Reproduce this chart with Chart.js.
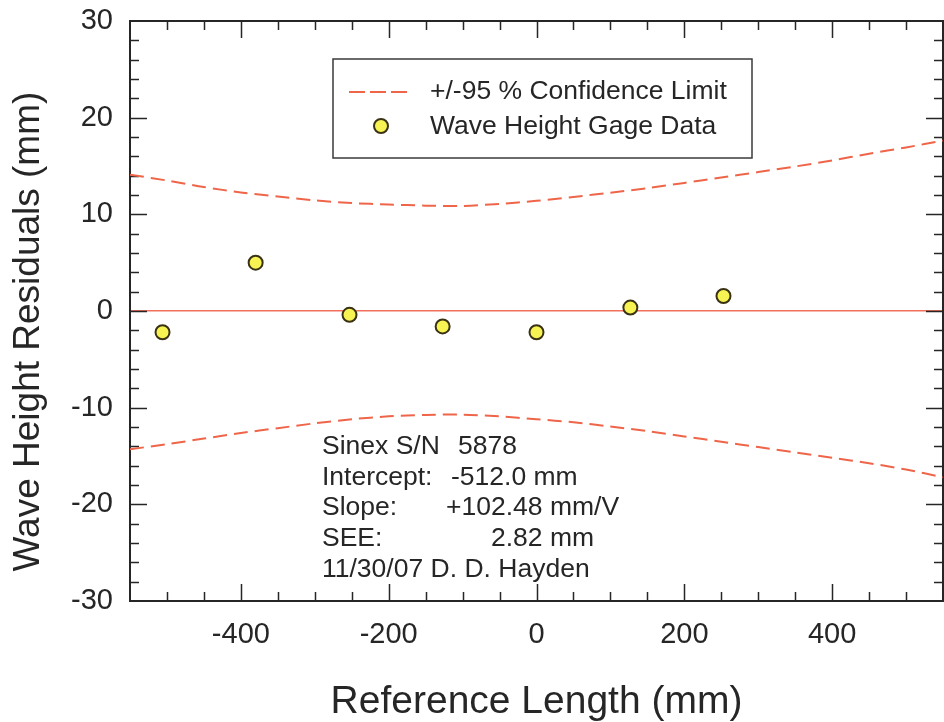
<!DOCTYPE html>
<html>
<head>
<meta charset="utf-8">
<title>Wave Height Residuals</title>
<script src="https://cdn.jsdelivr.net/npm/chart.js@4.4.0/dist/chart.umd.min.js"></script>
<style>
  html, body { margin: 0; padding: 0; background: #fff; overflow: hidden; }
  .wrap { width: 952px; height: 722px; }
  #chart { display: block; }
</style>
</head>
<body>
<div class="wrap">
<canvas id="chart" width="952" height="722"></canvas>
</div>
<script>
// gage readings: reference length (mm) vs residual (mm)
const gageX = [-506, -380, -253, -127, 0, 127, 253];
const gageY = [-2.2, 5.0, -0.4, -1.6, -2.2, 0.35, 1.55];

// confidence limits
const limitX = [-550, -500, -450, -400, -350, -300, -250, -200, -150, -100, -50, 0,
  50, 100, 150, 200, 250, 300, 350, 400, 450, 500, 550];
const upperLimit = [14.1, 13.5, 12.82, 12.27, 11.85, 11.44, 11.17, 11.02, 10.9, 10.87, 11.08, 11.4,
  11.8, 12.24, 12.71, 13.25, 13.8, 14.37, 14.95, 15.58, 16.27, 16.92, 17.62];
const lowerLimit = [-14.3, -13.78, -13.2, -12.62, -12.12, -11.62, -11.2, -10.9, -10.75, -10.72, -10.9, -11.2,
  -11.5, -11.95, -12.42, -12.98, -13.52, -14.08, -14.62, -15.18, -15.75, -16.4, -17.2];

const xTickLabels = [-400, -200, 0, 200, 400];
const yTickLabels = [-30, -20, -10, 0, 10, 20, 30];

const noteLabels = ['Sinex S/N', 'Intercept:', 'Slope:', 'SEE:', '11/30/07 D. D. Hayden'];
const noteValues = ['5878', '-512.0 mm', '+102.48 mm/V', '2.82 mm', ''];

const FONT = '"Liberation Sans", Arial, Helvetica, sans-serif';
const INK = '#262626';
const LIMIT_COLOR = '#ee6549';
const ZERO_COLOR = '#f0705c';

const toPoints = (xs, ys) => xs.map((x, i) => ({ x: x, y: ys[i] }));

// frame round the plot plus inward ticks on all four sides
const framePlugin = {
  id: 'frame',
  beforeDatasetsDraw(chart) {
    const { ctx, chartArea: a, scales: { x, y } } = chart;
    ctx.save();
    ctx.strokeStyle = INK;
    ctx.lineWidth = 1.5;
    ctx.beginPath();
    x.ticks.forEach(t => {
      if (t.value <= x.min || t.value >= x.max) return;
      const px = Math.round(x.getPixelForValue(t.value)) + 0.5;
      const len = xTickLabels.includes(t.value) ? 17 : 9;
      ctx.moveTo(px, a.bottom); ctx.lineTo(px, a.bottom - len);
      ctx.moveTo(px, a.top); ctx.lineTo(px, a.top + len);
    });
    y.ticks.forEach(t => {
      if (t.value <= y.min || t.value >= y.max) return;
      const py = Math.round(y.getPixelForValue(t.value)) + 0.5;
      const len = yTickLabels.includes(t.value) ? 17 : 9;
      ctx.moveTo(a.left, py); ctx.lineTo(a.left + len, py);
      ctx.moveTo(a.right, py); ctx.lineTo(a.right - len, py);
    });
    ctx.stroke();
    ctx.lineWidth = 2;
    ctx.strokeRect(a.left, a.top, a.right - a.left, a.bottom - a.top);
    ctx.restore();
  }
};

// legend box and the calibration notes
const overlayPlugin = {
  id: 'overlay',
  afterDraw(chart) {
    const { ctx, chartArea: a } = chart;
    const sets = chart.data.datasets;
    const limitSet = sets.find(d => d.label === '+/-95 % Confidence Limit');
    const gageSet = sets.find(d => d.label === 'Wave Height Gage Data');
    ctx.save();

    const bx = a.left + 203, by = a.top + 38;
    ctx.fillStyle = '#fff';
    ctx.fillRect(bx, by, 419, 99);
    ctx.strokeStyle = '#3a3a3a';
    ctx.lineWidth = 1.5;
    ctx.strokeRect(bx, by, 419, 99);

    ctx.strokeStyle = limitSet.borderColor;
    ctx.lineWidth = limitSet.borderWidth;
    ctx.setLineDash([16, 5]);
    ctx.beginPath();
    ctx.moveTo(bx + 16, by + 33);
    ctx.lineTo(bx + 75, by + 33);
    ctx.stroke();
    ctx.setLineDash([]);

    ctx.beginPath();
    ctx.arc(bx + 48, by + 67, gageSet.pointRadius, 0, Math.PI * 2);
    ctx.fillStyle = gageSet.pointBackgroundColor;
    ctx.fill();
    ctx.lineWidth = gageSet.pointBorderWidth;
    ctx.strokeStyle = gageSet.pointBorderColor;
    ctx.stroke();

    ctx.fillStyle = INK;
    ctx.font = '26.5px ' + FONT;
    ctx.textBaseline = 'middle';
    ctx.textAlign = 'left';
    ctx.fillText(limitSet.label, bx + 97, by + 33);
    ctx.fillText(gageSet.label, bx + 97, by + 68);

    const nx = a.left + 192;
    const valueOffsets = [136, 129, 124, 169, 0];
    ctx.textBaseline = 'alphabetic';
    noteLabels.forEach((label, i) => {
      const base = 454 + i * 30.7;
      ctx.fillText(label, nx, base);
      if (noteValues[i]) ctx.fillText(noteValues[i], nx + valueOffsets[i], base);
    });
    ctx.restore();
  }
};

new Chart(document.getElementById('chart'), {
  type: 'scatter',
  data: {
    datasets: [
      {
        label: 'Wave Height Gage Data',
        data: toPoints(gageX, gageY),
        showLine: false,
        pointRadius: 7,
        pointHoverRadius: 7,
        pointBackgroundColor: '#f6f352',
        pointBorderColor: '#3a3214',
        pointBorderWidth: 2,
      },
      {
        label: '+/-95 % Confidence Limit',
        data: toPoints(limitX, upperLimit),
        showLine: true,
        borderColor: LIMIT_COLOR,
        borderWidth: 2,
        borderDash: [14, 7],
        pointRadius: 0,
        tension: 0.3,
      },
      {
        label: '+/-95 % Confidence Limit',
        data: toPoints(limitX, lowerLimit),
        showLine: true,
        borderColor: LIMIT_COLOR,
        borderWidth: 2,
        borderDash: [14, 7],
        pointRadius: 0,
        tension: 0.3,
      },
    ],
  },
  options: {
    responsive: false,
    animation: false,
    layout: { padding: { left: 0, top: 21, right: 4.5, bottom: 0 } },
    plugins: {
      legend: { display: false },
      tooltip: { enabled: false },
    },
    scales: {
      x: {
        type: 'linear',
        min: -550,
        max: 550,
        afterFit: scale => {
          scale.height = 121;
          scale.paddingLeft = 0;
          scale.paddingRight = 0;
        },
        grid: { display: false, drawTicks: false },
        border: { display: false },
        ticks: {
          stepSize: 50,
          autoSkip: false,
          maxRotation: 0,
          padding: 17,
          color: INK,
          font: { family: FONT, size: 29 },
          callback: value => xTickLabels.includes(value) ? String(value) : '',
        },
        title: {
          display: true,
          text: 'Reference Length (mm)',
          color: INK,
          font: { family: FONT, size: 39, lineHeight: 1 },
          padding: { top: 0, bottom: 0 },
        },
      },
      y: {
        type: 'linear',
        min: -30,
        max: 30,
        afterFit: scale => {
          scale.width = 130;
          scale.paddingTop = 0;
          scale.paddingBottom = 0;
        },
        grid: {
          drawTicks: false,
          lineWidth: 1.5,
          color: c => c.tick && c.tick.value === 0 ? ZERO_COLOR : 'rgba(0,0,0,0)',
        },
        border: { display: false },
        ticks: {
          stepSize: 2,
          autoSkip: false,
          padding: 17,
          color: INK,
          font: { family: FONT, size: 29 },
          callback: value => yTickLabels.includes(value) ? String(value) : '',
        },
        title: {
          display: true,
          // trailing spaces nudge the title down to where it sits in the original
          text: 'Wave Height Residuals (mm)    ',
          color: INK,
          font: { family: FONT, size: 37, lineHeight: 1 },
          padding: { top: 10, bottom: 0 },
        },
      },
    },
  },
  plugins: [framePlugin, overlayPlugin],
});
</script>
</body>
</html>
